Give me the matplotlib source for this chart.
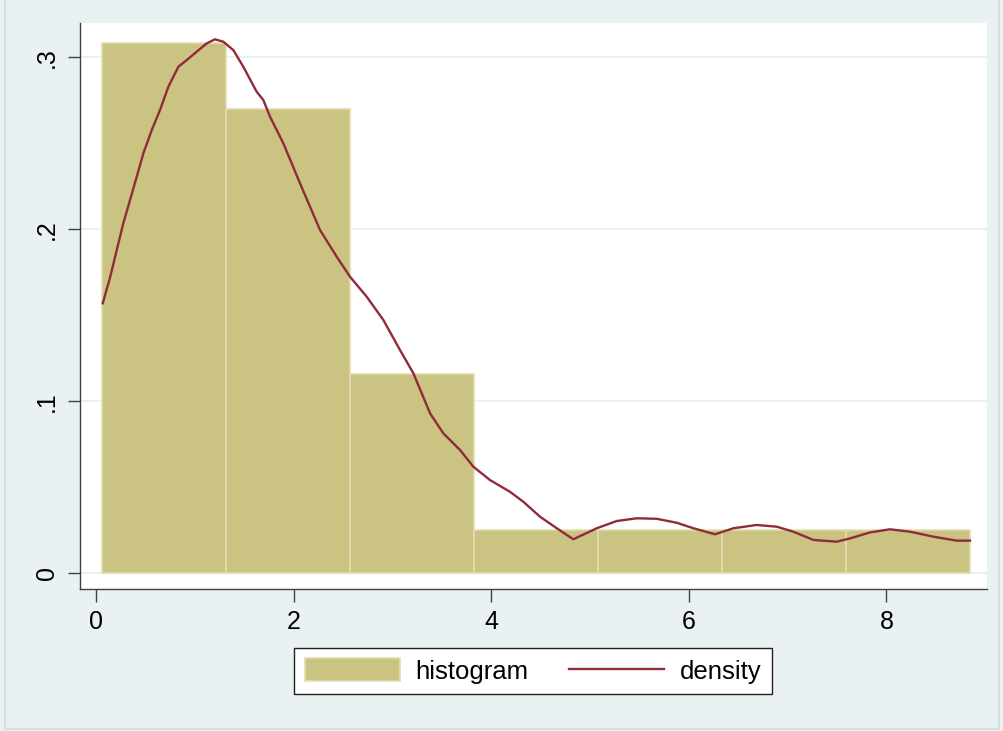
import numpy as np
import matplotlib.pyplot as plt
from matplotlib.patches import Rectangle

plt.rcParams['font.family'] = ['Liberation Sans', 'DejaVu Sans']

# histogram bins (left edges) and bar heights
bin_start = 0.058
bin_width = 1.2554
hist_heights = [0.3085, 0.270, 0.116, 0.0252, 0.0252, 0.0252, 0.0252]

# kernel density curve
dens_x = [0.068, 0.142, 0.210, 0.276, 0.344, 0.412, 0.479, 0.564, 0.648, 0.732,
          0.833, 0.918, 1.019, 1.120, 1.204, 1.288, 1.390, 1.491, 1.626, 1.693,
          1.761, 1.896, 2.065, 2.267, 2.436, 2.571, 2.740, 2.908, 3.077, 3.212,
          3.381, 3.515, 3.684, 3.819, 3.988, 4.190, 4.325, 4.494, 4.663, 4.831,
          5.068, 5.270, 5.473, 5.675, 5.877, 6.046, 6.265, 6.451, 6.687, 6.890,
          7.058, 7.260, 7.497, 7.632, 7.834, 8.036, 8.239, 8.475, 8.711, 8.846]
dens_y = [0.157, 0.172, 0.188, 0.2035, 0.217, 0.2306, 0.2442, 0.2577, 0.2694, 0.2829,
          0.2945, 0.2984, 0.3033, 0.3081, 0.3105, 0.3091, 0.3042, 0.2945, 0.2800, 0.2752,
          0.2655, 0.2500, 0.2267, 0.1996, 0.1841, 0.1724, 0.1608, 0.1473, 0.1298, 0.1163,
          0.0930, 0.0814, 0.0717, 0.0620, 0.0542, 0.0474, 0.0416, 0.0329, 0.0262, 0.0198,
          0.0262, 0.0304, 0.0320, 0.0317, 0.0294, 0.0262, 0.0227, 0.0262, 0.0281, 0.0271,
          0.0242, 0.0194, 0.0184, 0.0203, 0.0238, 0.0256, 0.0242, 0.0213, 0.0190, 0.0190]

y_ticks = [0, 0.1, 0.2, 0.3]
y_labels = ['0', '.1', '.2', '.3']
x_ticks = [0, 2, 4, 6, 8]

bg = '#EAF1F3'
fig = plt.figure(figsize=(10.04, 7.31), dpi=100, facecolor=bg)
fig.patches.append(Rectangle((0.005, 0.003), 0.99, 1.0, transform=fig.transFigure,
                             fill=False, edgecolor='#D3DADD', lw=1.2))

ax = fig.add_axes([0.0797, 0.1943, 0.9034, 0.7743])
ax.set_facecolor('white')

edges = bin_start + bin_width * np.arange(len(hist_heights))
bars = ax.bar(edges, hist_heights, width=bin_width, align='edge', color='#CBC382',
              edgecolor='#E2DDB0', linewidth=1.2, zorder=2)
line, = ax.plot(dens_x, dens_y, color='#902B3A', lw=1.7, zorder=3)

ax.set_xlim(-0.162, 9.018)
ax.set_ylim(-0.0091, 0.320)
ax.set_yticks(y_ticks)
ax.set_yticklabels(y_labels, rotation=90, va='center')
ax.set_xticks(x_ticks)
ax.grid(axis='y', color='#EAF1F3', lw=1.5, zorder=0)
ax.set_axisbelow(True)

for s in ['top', 'right']:
    ax.spines[s].set_visible(False)
for s in ['left', 'bottom']:
    ax.spines[s].set_color('#404040')
    ax.spines[s].set_linewidth(1.0)
ax.tick_params(axis='both', direction='out', length=9, width=1.0, color='#404040',
               labelsize=18, pad=6)

leg = ax.legend([bars, line], ['histogram', 'density'], loc='center',
                bbox_to_anchor=(0.531, 0.082), bbox_transform=fig.transFigure,
                ncol=2, frameon=True, fancybox=False, framealpha=1, edgecolor='#202020',
                fontsize=18.5, handlelength=3.7, handleheight=1.0, handletextpad=0.6,
                columnspacing=1.6, borderpad=0.4, borderaxespad=0)
leg.get_frame().set_linewidth(1.0)

fig.savefig('out.png', dpi=100, facecolor=bg)
